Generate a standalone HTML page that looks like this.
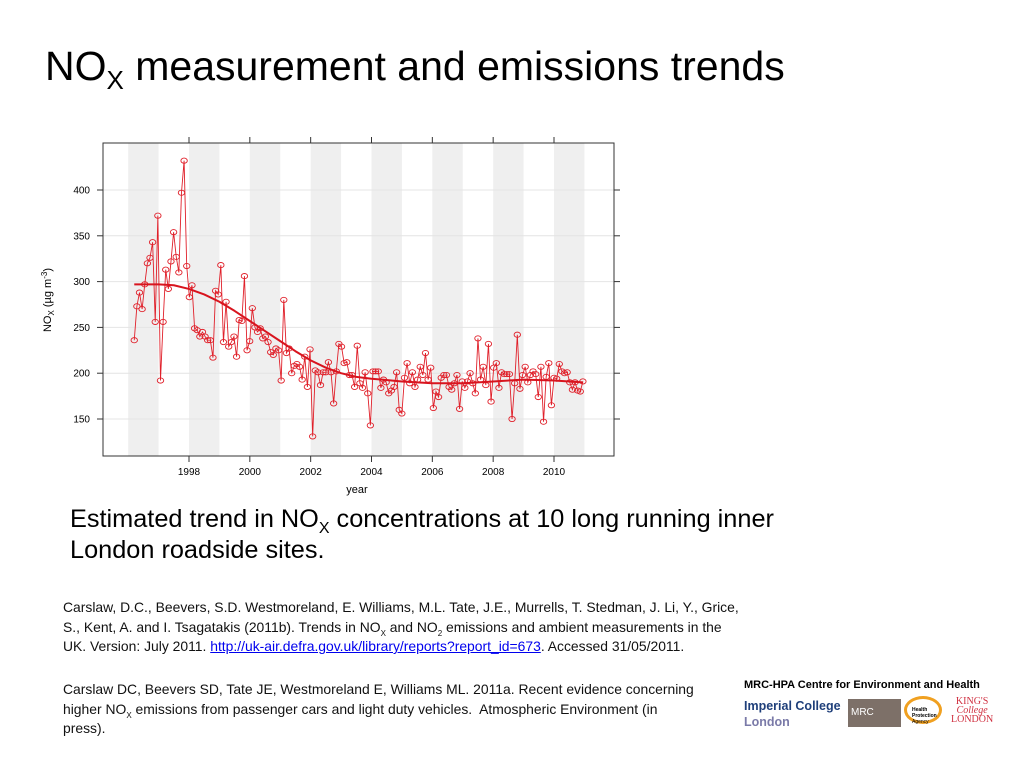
<!DOCTYPE html>
<html><head><meta charset="utf-8"><style>
body{margin:0;width:1024px;height:768px;background:#fff;position:relative;overflow:hidden;font-family:"Liberation Sans",sans-serif;}
.abs{position:absolute;}
sub{line-height:0}
.title{left:45px;top:43px;font-size:41px;color:#000;white-space:nowrap;letter-spacing:0}
.cap{left:70px;top:504px;font-size:25.3px;line-height:31px;color:#000;white-space:nowrap}
.ref{font-size:13.9px;line-height:19.5px;color:#111;white-space:nowrap}
a{color:#00e;text-decoration:underline}
</style></head><body>
<div class="abs title">NO<sub style="font-size:26px">X</sub> measurement and emissions trends</div>
<svg class="abs" style="left:0;top:0" width="1024" height="500">
<g id="bands"></g><g id="grid"></g><g id="axes"></g><g id="series"></g><g id="trend"></g>
</svg>
<div class="abs cap">Estimated trend in NO<sub style="font-size:16px">X</sub> concentrations at 10 long running inner<br>London roadside sites.</div>
<div class="abs ref" style="left:63px;top:598px">Carslaw, D.C., Beevers, S.D. Westmoreland, E. Williams, M.L. Tate, J.E., Murrells, T. Stedman, J. Li, Y., Grice,<br>S., Kent, A. and I. Tsagatakis (2011b). Trends in NO<sub style="font-size:8px">X</sub> and NO<sub style="font-size:8px">2</sub> emissions and ambient measurements in the<br>UK. Version: July 2011. <a>http://uk-air.defra.gov.uk/library/reports?report_id=673</a>. Accessed 31/05/2011.</div>
<div class="abs ref" style="left:63px;top:680px">Carslaw DC, Beevers SD, Tate JE, Westmoreland E, Williams ML. 2011a. Recent evidence concerning<br>higher NO<sub style="font-size:8px">X</sub> emissions from passenger cars and light duty vehicles.&nbsp; Atmospheric Environment (in<br>press).</div>
<div class="abs" style="left:744px;top:679px;font-size:11px;font-weight:bold;color:#000">MRC-HPA Centre for Environment and Health</div>
<div class="abs" style="left:744px;top:698px;font-size:12.5px;font-weight:bold;color:#1f3f7a;line-height:16px">Imperial College<br><span style="color:#7a7aa8">London</span></div>
<div class="abs" style="left:848px;top:699px;width:53px;height:28px;background:#7d7068;color:#fff;font-size:10px;line-height:28px;padding-left:3px;box-sizing:border-box">MRC</div>
<div class="abs" style="left:904px;top:696px;width:38px;height:28px;border:3px solid #f0a020;border-radius:50%;font-size:5px;line-height:6px;padding:8px 0 0 5px;box-sizing:border-box"><b>Health Protection</b> Agency</div>
<div class="abs" style="left:951px;top:697px;color:#d03040;font-family:'Liberation Serif',serif;font-size:10px;line-height:9px;text-align:center">KING'S<br><i>College</i><br>LONDON</div>
<script>
const yTicks=[150,200,250,300,350,400];
const xTicks=[1998,2000,2002,2004,2006,2008,2010];
const bandYears=[1996,1998,2000,2002,2004,2006,2008,2010];
const startYear=1996.2, endYear=2010.95;
const noxValues=[236,273,288,270,297,320,326,343,256,372,192,256,313,292,322,354,327,310,397,432,317,283,296,249,247,240,245,240,236,236,217,290,286,318,234,278,229,234,240,218,258,257,306,225,235,271,250,245,249,238,240,234,223,220,227,225,192,280,222,227,200,208,210,
207,193,218,185,226,131,203,201,187,201,201,212,201,167,202,232,229,211,212,198,198,185,230,189,184,201,178,143,202,202,202,184,193,190,178,181,185,201,160,156,195,211,189,201,185,193,207,198,222,193,206,162,180,174,195,198,198,185,182,189,198,
161,191,184,191,200,189,178,238,193,207,187,232,169,206,211,184,201,199,199,199,150,189,242,183,198,207,190,198,202,199,174,207,147,196,211,165,195,194,210,202,200,201,190,182,190,181,180,191];
const trendYears=[1996.2,1997,1997.5,1998,1998.5,1999,1999.5,2000,2000.5,2001,2001.5,2002,2002.5,2003,2003.5,2004,2005,2006,2007,2008,2009,2010,2010.95];
const trendValues=[297,297,296,292,286,278,268,257,246,235,224,214,206,200,196,194,191,189,189,191,193,192,190];
const NS='http://www.w3.org/2000/svg';
const L=103,R=614,T=143,B=456;
const xs=y=>189+(y-1998)*(554-189)/12;
const ys=v=>190+(400-v)*(419-190)/250;
function mk(tag,attrs,parent){const e=document.createElementNS(NS,tag);for(const k in attrs)e.setAttribute(k,attrs[k]);document.getElementById(parent).appendChild(e);return e;}
bandYears.forEach(y=>{const e=mk('rect',{x:xs(y),y:T,width:xs(y+1)-xs(y),height:B-T,fill:'#efefef'},'bands');

});
yTicks.forEach(v=>{const g=mk('line',{x1:L,x2:R,y1:ys(v),y2:ys(v),stroke:'#e4e4e4','stroke-width':1},'grid');


mk('line',{x1:L-6,x2:L,y1:ys(v),y2:ys(v),stroke:'#333'},'axes');
mk('line',{x1:R,x2:R+6,y1:ys(v),y2:ys(v),stroke:'#333'},'axes');
const t=mk('text',{x:L-13,y:ys(v)+3.5,'text-anchor':'end','font-size':10,fill:'#000','font-family':'Liberation Sans'},'axes');t.textContent=v;

});
xTicks.forEach(y=>{mk('line',{x1:xs(y),x2:xs(y),y1:B,y2:B+6,stroke:'#333'},'axes');
mk('line',{x1:xs(y),x2:xs(y),y1:T-6,y2:T,stroke:'#333'},'axes');
const t=mk('text',{x:xs(y),y:B+19,'text-anchor':'middle','font-size':10,fill:'#000','font-family':'Liberation Sans'},'axes');t.textContent=y;

});
const fr=mk('rect',{x:L,y:T,width:R-L,height:B-T,fill:'none',stroke:'#333','stroke-width':1},'axes');


const xt=mk('text',{x:357,y:493,'text-anchor':'middle','font-size':11,'font-family':'Liberation Sans'},'axes');xt.textContent='year';


const yt=mk('text',{transform:'translate(51,300) rotate(-90)','text-anchor':'middle','font-size':11,'font-family':'Liberation Sans'},'axes');
yt.innerHTML='NO<tspan font-size="8" dy="3">X</tspan><tspan dy="-3"> (\u00b5g m</tspan><tspan font-size="8" dy="-4">-3</tspan><tspan dy="4">)</tspan>';


const n=noxValues.length;const px=i=>xs(startYear+i*(endYear-startYear)/(n-1));
const pl=mk('polyline',{points:noxValues.map((v,i)=>px(i)+','+ys(v)).join(' '),fill:'none',stroke:'#e0202a','stroke-width':0.9},'series');


noxValues.forEach((v,i)=>{const c=mk('ellipse',{cx:px(i),cy:ys(v),rx:3.2,ry:2.6,fill:'none',stroke:'#e0202a','stroke-width':0.9},'series');

});
const tl=mk('polyline',{points:trendYears.map((y,i)=>xs(y)+','+ys(trendValues[i])).join(' '),fill:'none',stroke:'#d8141e','stroke-width':2,'stroke-linejoin':'round'},'trend');


</script>
</body></html>
